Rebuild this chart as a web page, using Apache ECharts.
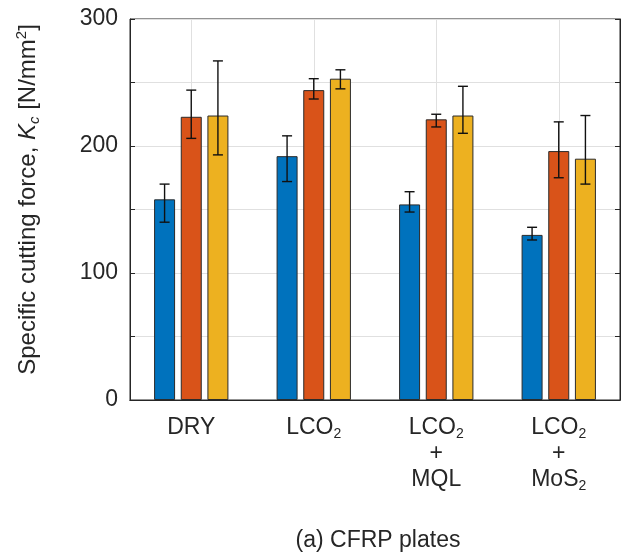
<!DOCTYPE html>
<html lang="en">
<head>
    <meta charset="UTF-8">
    <title>CFRP plates</title>
    <script src="https://cdn.jsdelivr.net/npm/echarts@6/dist/echarts.min.js"></script>
    <style>
        html, body { margin: 0; padding: 0; background: #fff; }
    </style>
</head>
<body>
    <div id="main" style="width: 622px;height:556px;"></div>
    <script type="text/javascript">
        // Cooling conditions (x axis) and their rich-text tick labels
        const categories = ['DRY', 'LCO2', 'LCO2 + MQL', 'LCO2 + MoS2'];
        const tickLabels = [
            '{t|DRY}',
            '{t|LCO}{s|2}',
            '{t|LCO}{s|2}\n{t|+}\n{t|MQL}',
            '{t|LCO}{s|2}\n{t|+}\n{t|MoS}{s|2}'
        ];
        const yTicks = [0, 100, 200, 300];

        // Specific cutting force Kc [N/mm2], three series per condition
        const seriesNames = ['Series 1', 'Series 2', 'Series 3'];
        const blueValues = [158, 192, 154, 130];
        const orangeValues = [223, 244, 221, 196];
        const yellowValues = [224, 253, 224, 190];

        // Error bar ranges [low, high]
        const blueErr = [[140, 170], [172, 208], [148, 164], [126, 136]];
        const orangeErr = [[206, 244], [237, 253], [215, 225], [175, 219]];
        const yellowErr = [[193, 267], [245, 260], [210, 247], [170, 224]];

        const colors = ['#0072BD', '#D95319', '#EDB120'];
        const BAR_W = 21;
        const BAR_GAP = 27;   // percent of bar width
        const step = BAR_W * (1 + BAR_GAP / 100);

        let myChart = echarts.init(document.getElementById('main'));

        const textColor = '#262626';
        const font = 'Liberation Sans, Arial, sans-serif';

        function barSeries(idx, values) {
            return {
                name: seriesNames[idx],
                type: 'bar',
                data: values,
                barWidth: BAR_W,
                barGap: BAR_GAP + '%',
                itemStyle: { color: colors[idx], borderColor: '#2b2b2b', borderWidth: 1 },
                z: 2
            };
        }

        function errSeries(idx, ranges) {
            return {
                type: 'custom',
                data: ranges.map((r, i) => [i, r[0], r[1]]),
                encode: { x: 0, y: [1, 2] },
                z: 5,
                renderItem: function (params, api) {
                    const off = (idx - 1) * step;
                    const lo = api.coord([api.value(0), api.value(1)]);
                    const hi = api.coord([api.value(0), api.value(2)]);
                    const x = lo[0] + off;
                    const cap = 5;
                    const st = { stroke: '#111', lineWidth: 1.4 };
                    return {
                        type: 'group',
                        children: [
                            { type: 'line', shape: { x1: x, y1: lo[1], x2: x, y2: hi[1] }, style: st },
                            { type: 'line', shape: { x1: x - cap, y1: lo[1], x2: x + cap, y2: lo[1] }, style: st },
                            { type: 'line', shape: { x1: x - cap, y1: hi[1], x2: x + cap, y2: hi[1] }, style: st }
                        ]
                    };
                }
            };
        }

        let options = {
            animation: false,
            textStyle: { fontFamily: font, color: textColor },
            title: {
                text: '(a) CFRP plates',
                left: 373,
                top: 524,
                textAlign: 'center',
                textStyle: { fontFamily: font, fontSize: 23, fontWeight: 'normal', color: textColor }
            },
            grid: {
                left: 130, right: 2, top: 19, bottom: 156,
                show: true, borderColor: '#262626', borderWidth: 1
            },
            xAxis: [{
                type: 'category',
                data: categories,
                axisLine: { lineStyle: { color: '#262626' } },
                axisTick: { inside: true, alignWithLabel: true, length: 5, lineStyle: { color: '#262626' } },
                splitLine: { show: true, alignWithLabel: true, lineStyle: { color: '#e0e0e0' } },
                axisLabel: {
                    margin: 15,
                    color: textColor,
                    formatter: (v, i) => tickLabels[i],
                    rich: {
                        t: { fontFamily: font, fontSize: 23, lineHeight: 26, color: textColor },
                        s: { fontFamily: font, fontSize: 14, lineHeight: 14, verticalAlign: 'bottom', color: textColor }
                    }
                }
            }, {
                type: 'category',
                data: categories,
                position: 'top',
                axisLine: { lineStyle: { color: '#262626' } },
                axisTick: { inside: true, alignWithLabel: true, length: 5, lineStyle: { color: '#262626' } },
                axisLabel: { show: false }
            }],
            yAxis: [{
                type: 'value',
                min: 0, max: 300, interval: 50,
                axisLine: { show: true, lineStyle: { color: '#262626' } },
                axisTick: { show: true, inside: true, length: 5, lineStyle: { color: '#262626' } },
                splitLine: { show: true, lineStyle: { color: '#e0e0e0' } },
                axisLabel: {
                    margin: 12,
                    fontSize: 23,
                    color: textColor,
                    fontFamily: font,
                    formatter: v => (yTicks.indexOf(v) >= 0 ? String(v) : '')
                },
                name: '{n|Specific cutting force, }{i|K}{ic|c}{n| [N/mm}{sup|2}{n|]}',
                nameLocation: 'middle',
                nameRotate: 90,
                nameGap: 88,
                nameTextStyle: {
                    padding: [0, 0, 0, 20],
                    rich: {
                        n: { fontFamily: font, fontSize: 24, lineHeight: 28, color: textColor },
                        i: { fontFamily: font, fontSize: 24, lineHeight: 28, fontStyle: 'italic', color: textColor },
                        ic: { fontFamily: font, fontSize: 15, lineHeight: 15, fontStyle: 'italic', verticalAlign: 'bottom', color: textColor },
                        sup: { fontFamily: font, fontSize: 15, lineHeight: 15, verticalAlign: 'top', color: textColor }
                    }
                }
            }, {
                type: 'value',
                min: 0, max: 300, interval: 50,
                position: 'right',
                axisLine: { show: true, lineStyle: { color: '#262626' } },
                axisTick: { show: true, inside: true, length: 5, lineStyle: { color: '#262626' } },
                splitLine: { show: false },
                axisLabel: { show: false }
            }],
            series: [
                barSeries(0, blueValues),
                barSeries(1, orangeValues),
                barSeries(2, yellowValues),
                errSeries(0, blueErr),
                errSeries(1, orangeErr),
                errSeries(2, yellowErr)
            ]
        };

        myChart.setOption(options);
    </script>
</body>
</html>
